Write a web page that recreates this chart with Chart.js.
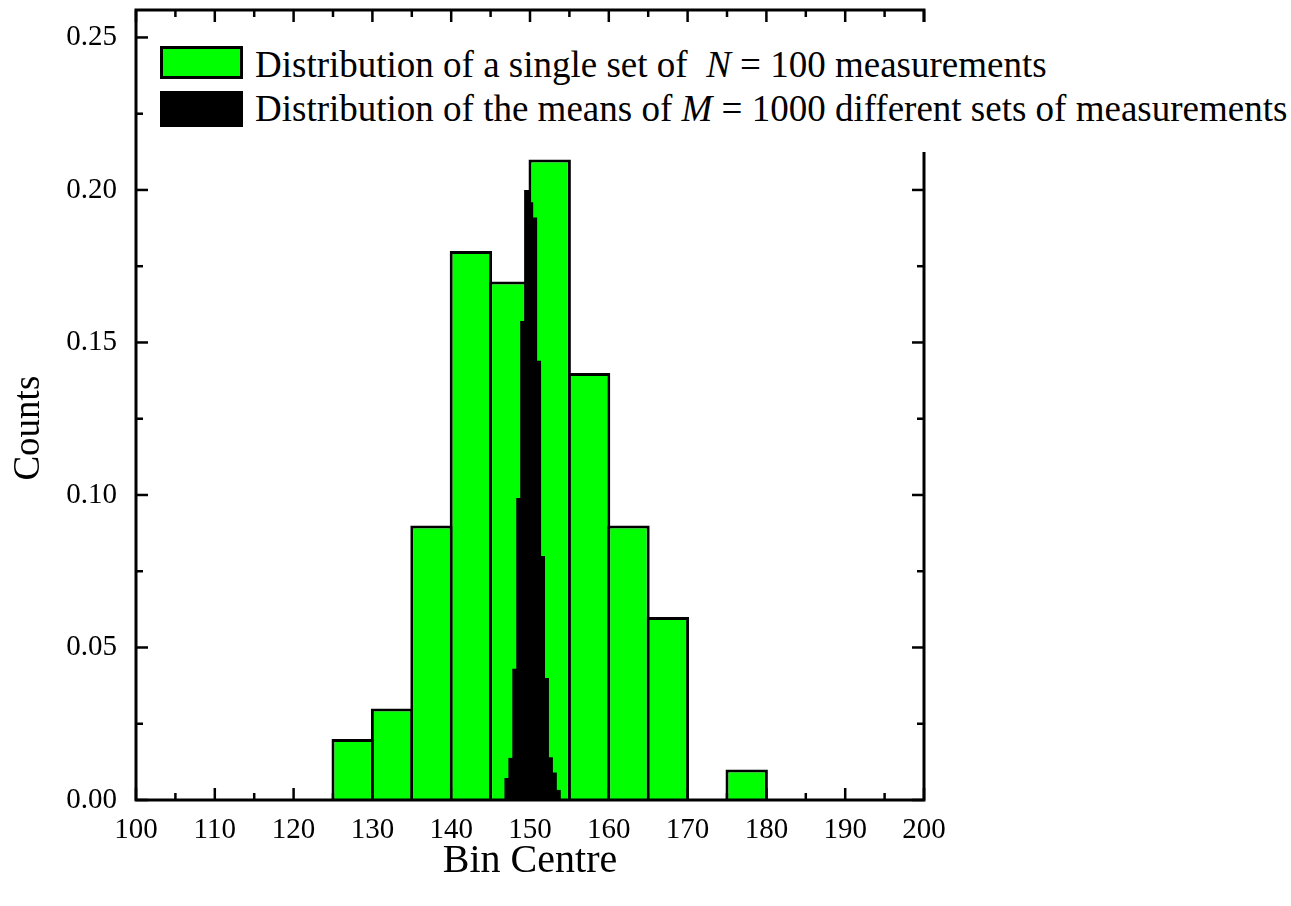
<!DOCTYPE html>
<html>
<head>
<meta charset="utf-8">
<script src="https://cdn.jsdelivr.net/npm/chart.js@4.4.1/dist/chart.umd.min.js"></script>
<style>
  html, body { margin: 0; padding: 0; background: #ffffff; }
  #wrap { position: relative; width: 1291px; height: 906px; overflow: hidden; background: #fff; }
  #legend { position: absolute; left: 152px; top: 22px; width: 1139px; height: 130px; background: #fff; }
  .sw { position: absolute; left: 8px; width: 83px; box-sizing: border-box; }
  .lt { position: absolute; left: 103px; white-space: nowrap; font-family: "Liberation Serif", "Times New Roman", serif; font-size: 37px; line-height: 37px; color: #000; }
</style>
</head>
<body>
<div id="wrap">
  <canvas id="c" width="1291" height="906"></canvas>
  <div id="legend"></div>
</div>
<script>
// ---- data ----
const binCentres = [127.5, 132.5, 137.5, 142.5, 147.5, 152.5, 157.5, 162.5, 167.5, 172.5, 177.5];
const singleSetCounts = [0.02, 0.03, 0.09, 0.18, 0.17, 0.21, 0.14, 0.09, 0.06, 0, 0.01];
const meanBinCentres = [147.08, 147.58, 148.08, 148.58, 149.08, 149.58, 150.08, 150.58, 151.08, 151.58, 152.08, 152.58, 153.08, 153.58];
const meanCounts = [0.0072, 0.0138, 0.043, 0.099, 0.157, 0.200, 0.196, 0.191, 0.144, 0.080, 0.040, 0.014, 0.009, 0.0033];
const xTicks = [100, 110, 120, 130, 140, 150, 160, 170, 180, 190, 200];
const xMinorTicks = [105, 115, 125, 135, 145, 155, 165, 175, 185, 195];
const yTicks = [0.00, 0.05, 0.10, 0.15, 0.20, 0.25];
const yMinorTicks = [0.025, 0.075, 0.125, 0.175, 0.225];
const legendLabels = [
  'Distribution of a single set of&nbsp; <i>N</i> = 100 measurements',
  'Distribution of the means of <i>M</i> = 1000 different sets of measurements'
];

const FONT = '"Liberation Serif", "Times New Roman", serif';

const framePlugin = {
  id: 'frame',
  beforeDatasetsDraw(chart) {
    const {ctx, chartArea: a, scales} = chart;
    const x = scales.x, y = scales.y;
    ctx.save();
    ctx.strokeStyle = '#000';
    ctx.lineWidth = 2.5;
    const major = 12, minor = 7;
    const drawX = (vals, len) => vals.forEach(v => {
      const px = x.getPixelForValue(v);
      ctx.beginPath(); ctx.moveTo(px, a.bottom); ctx.lineTo(px, a.bottom - len); ctx.stroke();
      ctx.beginPath(); ctx.moveTo(px, a.top); ctx.lineTo(px, a.top + len); ctx.stroke();
    });
    const drawY = (vals, len) => vals.forEach(v => {
      const py = y.getPixelForValue(v);
      ctx.beginPath(); ctx.moveTo(a.left, py); ctx.lineTo(a.left + len, py); ctx.stroke();
      ctx.beginPath(); ctx.moveTo(a.right, py); ctx.lineTo(a.right - len, py); ctx.stroke();
    });
    drawX(xTicks, major); drawX(xMinorTicks, minor);
    drawY(yTicks, major); drawY(yMinorTicks, minor);
    ctx.restore();
  },
  afterDatasetsDraw(chart) {
    const {ctx, chartArea: a} = chart;
    ctx.save();
    ctx.strokeStyle = '#000';
    ctx.lineWidth = 3;
    ctx.strokeRect(a.left, a.top, a.right - a.left, a.bottom - a.top);
    ctx.restore();
  }
};

new Chart(document.getElementById('c'), {
  type: 'bar',
  data: {
    datasets: [
      {
        label: 'single',
        data: binCentres.map((c, i) => ({x: c, y: singleSetCounts[i]})),
        backgroundColor: '#00ff00',
        borderColor: '#000000',
        borderWidth: 3,
        borderSkipped: 'start',
        barPercentage: 1.076,
        categoryPercentage: 1,
        grouped: false,
        xAxisID: 'x',
        order: 2
      },
      {
        label: 'means',
        data: meanBinCentres.map((c, i) => ({x: c, y: meanCounts[i]})),
        backgroundColor: '#000000',
        borderWidth: 0,
        barPercentage: 1.3,
        categoryPercentage: 1,
        grouped: false,
        xAxisID: 'x2',
        order: 1
      }
    ]
  },
  options: {
    responsive: false,
    animation: false,
    devicePixelRatio: 1,
    layout: { padding: { top: 10, right: 367, left: 0, bottom: 0 } },
    plugins: { legend: { display: false }, tooltip: { enabled: false } },
    scales: {
      x: {
        type: 'linear', min: 100, max: 200, offset: false,
        grid: { display: false, drawTicks: false },
        border: { display: false },
        afterBuildTicks: (ax) => { ax.ticks = xTicks.map(v => ({value: v})); },
        afterFit: (ax) => { ax.height = 106; ax.paddingLeft = 0; ax.paddingRight = 0; },
        ticks: { padding: 13, color: '#000', font: { family: FONT, size: 29 }, maxRotation: 0, autoSkip: false, callback: (v) => String(v) },
        title: { display: true, text: 'Bin Centre', color: '#000', font: { family: FONT, size: 40 }, padding: { top: 0, bottom: 21 } }
      },
      x2: {
        type: 'linear', min: 100, max: 200, offset: false, display: false
      },
      y: {
        type: 'linear', min: 0, max: 0.259,
        grid: { display: false, drawTicks: false },
        border: { display: false },
        afterBuildTicks: (ax) => { ax.ticks = yTicks.map(v => ({value: v})); },
        afterFit: (ax) => { ax.width = 136; ax.paddingTop = 0; ax.paddingBottom = 0; },
        ticks: { padding: 19, color: '#000', font: { family: FONT, size: 29 }, autoSkip: false, callback: (v) => Number(v).toFixed(2) },
        title: { display: true, text: 'Counts\u00a0\u00a0\u00a0\u00a0\u00a0', color: '#000', font: { family: FONT, size: 37 }, padding: { top: 7, bottom: 0 } }
      }
    }
  },
  plugins: [framePlugin]
});

// legend (HTML, with italic symbols)
const legend = document.getElementById('legend');
const swatchColors = ['#00ff00', '#000000'];
const swatchTops = [24, 69];
const swatchHeights = [33, 36];
const textTops = [24, 68];
legendLabels.forEach((html, i) => {
  const sw = document.createElement('div');
  sw.className = 'sw';
  sw.style.top = swatchTops[i] + 'px';
  sw.style.height = swatchHeights[i] + 'px';
  sw.style.background = swatchColors[i];
  sw.style.border = '3px solid #000';
  legend.appendChild(sw);
  const t = document.createElement('div');
  t.className = 'lt';
  t.style.top = textTops[i] + 'px';
  t.innerHTML = html;
  legend.appendChild(t);
});
</script>
</body>
</html>
